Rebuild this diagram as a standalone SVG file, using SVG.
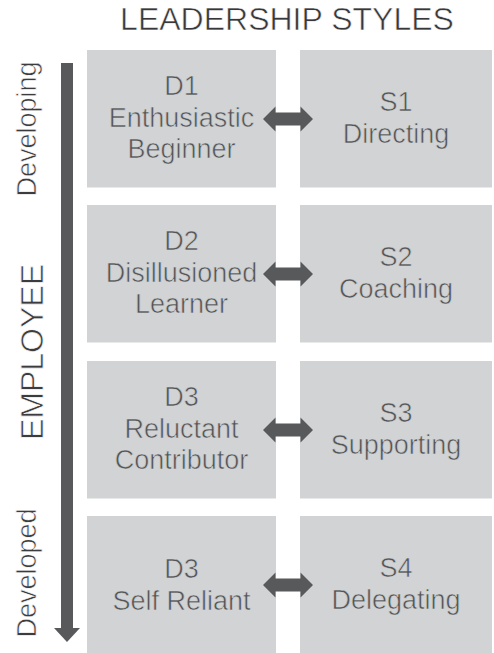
<svg xmlns="http://www.w3.org/2000/svg" width="494" height="653" viewBox="0 0 494 653">
  <style>
    .box { fill: #d1d3d4; }
    /* thin the glyphs by over-stroking them in the colour behind them */
    .lbl { font-family: "Liberation Sans", Arial, sans-serif; font-size: 27px; fill: #545557; text-anchor: middle; stroke: #d1d3d4; stroke-width: 0.6px; }
    .title { font-family: "Liberation Sans", Arial, sans-serif; font-size: 32px; fill: #38383a; text-anchor: middle; stroke: #ffffff; stroke-width: 0.55px; }
    .side { font-family: "Liberation Sans", Arial, sans-serif; font-size: 27px; fill: #3c3c3e; text-anchor: middle; stroke: #ffffff; stroke-width: 0.6px; }
    .big { font-size: 32px; stroke-width: 0.65px; }
    .arrow { fill: #58595b; }
  </style>
  <defs>
    <!-- double-headed connector, centred on (0,0) -->
    <polygon id="dbl" points="-25,0 -12.5,-12.5 -12.5,-6.5 12.5,-6.5 12.5,-12.5 25,0 12.5,12.5 12.5,6.5 -12.5,6.5 -12.5,12.5"/>
  </defs>

  <rect width="494" height="653" fill="#ffffff"/>

  <text class="title" x="287" y="30">LEADERSHIP STYLES</text>

  <!-- side axis -->
  <g id="axis">
    <rect class="arrow" x="61" y="63" width="12" height="566"/>
    <polygon class="arrow" points="54,628 80,628 67,642"/>
    <text class="side" transform="translate(36,129) rotate(-90)">Developing</text>
    <text class="side big" transform="translate(43,352) rotate(-90)">EMPLOYEE</text>
    <text class="side" transform="translate(36,573) rotate(-90)">Developed</text>
  </g>

  <g id="d1">
    <rect class="box" x="87" y="50" width="189" height="137.5"/>
    <text class="lbl" x="181.5" y="95">D1</text>
    <text class="lbl" x="181.5" y="127">Enthusiastic</text>
    <text class="lbl" x="181.5" y="158">Beginner</text>
  </g>
  <g id="s1">
    <rect class="box" x="300" y="50" width="192" height="137.5"/>
    <text class="lbl" x="396" y="111">S1</text>
    <text class="lbl" x="396" y="143">Directing</text>
  </g>

  <g id="d2">
    <rect class="box" x="87" y="205" width="189" height="137.5"/>
    <text class="lbl" x="181.5" y="250">D2</text>
    <text class="lbl" x="181.5" y="282">Disillusioned</text>
    <text class="lbl" x="181.5" y="313">Learner</text>
  </g>
  <g id="s2">
    <rect class="box" x="300" y="205" width="192" height="137.5"/>
    <text class="lbl" x="396" y="266">S2</text>
    <text class="lbl" x="396" y="298">Coaching</text>
  </g>

  <g id="d3">
    <rect class="box" x="87" y="361" width="189" height="137.5"/>
    <text class="lbl" x="181.5" y="406">D3</text>
    <text class="lbl" x="181.5" y="438">Reluctant</text>
    <text class="lbl" x="181.5" y="469">Contributor</text>
  </g>
  <g id="s3">
    <rect class="box" x="300" y="361" width="192" height="137.5"/>
    <text class="lbl" x="396" y="422">S3</text>
    <text class="lbl" x="396" y="454">Supporting</text>
  </g>

  <g id="d4">
    <rect class="box" x="87" y="516" width="189" height="137.5"/>
    <text class="lbl" x="181.5" y="578">D3</text>
    <text class="lbl" x="181.5" y="610">Self Reliant</text>
  </g>
  <g id="s4">
    <rect class="box" x="300" y="516" width="192" height="137.5"/>
    <text class="lbl" x="396" y="577">S4</text>
    <text class="lbl" x="396" y="609">Delegating</text>
  </g>

  <g id="connectors" class="arrow">
    <use href="#dbl" x="288" y="119"/>
    <use href="#dbl" x="288" y="274"/>
    <use href="#dbl" x="288" y="430"/>
    <use href="#dbl" x="288" y="585"/>
  </g>
</svg>
